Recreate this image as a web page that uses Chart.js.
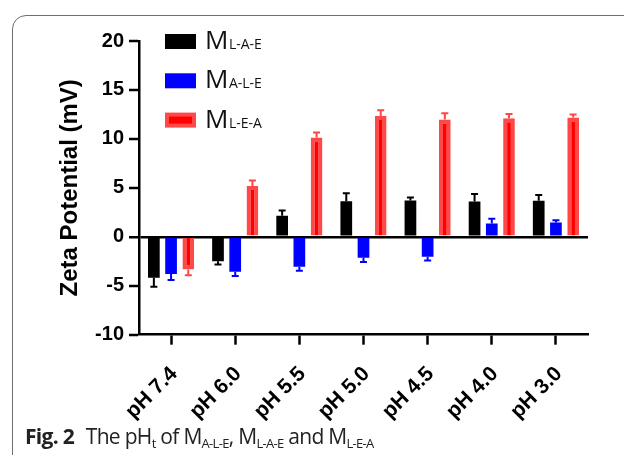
<!DOCTYPE html>
<html>
<head>
<meta charset="utf-8">
<script src="https://cdn.jsdelivr.net/npm/chart.js@4.4.1/dist/chart.umd.min.js"></script>
<style>
  html, body { margin: 0; padding: 0; background: #fff; }
  #wrap { position: relative; width: 624px; height: 455px; overflow: hidden; }
  #frame { position: absolute; left: 12px; top: 15px; width: 700px; height: 600px;
           border: 1.5px solid #6f6f6f; border-radius: 14px; box-sizing: border-box; }
  #c { position: absolute; left: 0; top: 0; }
  #caption { position: absolute; left: 25px; top: 422px; font-family: "Open Sans", sans-serif;
             font-size: 21px; color: #222; white-space: nowrap; letter-spacing: -0.7px; }
  #caption b { font-weight: 700; margin-right: 7px; }
  #caption sub { font-size: 13px; vertical-align: -4px; line-height: 0; }
</style>
</head>
<body>
<div id="wrap">
  <div id="frame"></div>
  <canvas id="c" width="624" height="455"></canvas>
  <div id="caption"><b>Fig. 2</b> The pH<sub>t</sub> of M<sub>A-L-E</sub>, M<sub>L-A-E</sub> and M<sub>L-E-A</sub></div>
</div>
<script>
// pH conditions along the x axis
const categories = ['pH 7.4', 'pH 6.0', 'pH 5.5', 'pH 5.0', 'pH 4.5', 'pH 4.0', 'pH 3.0'];

// Zeta potential (mV), mean values
const mLAE = [-4.18, -2.51, 2.14, 3.64, 3.71, 3.61, 3.67];
const mALE = [-3.81, -3.57, -3.06, -2.14, -2.04, 1.37, 1.47];
const mLEA = [-3.33, 5.20, 10.14, 12.35, 11.98, 12.11, 12.18];

// Standard deviations (drawn away from zero)
const errLAE = [0.92, 0.31, 0.55, 0.82, 0.31, 0.75, 0.60];
const errALE = [0.61, 0.44, 0.41, 0.44, 0.37, 0.47, 0.23];
const errLEA = [0.61, 0.55, 0.51, 0.58, 0.64, 0.44, 0.31];

// Series subscripts (prefixed by "M")
const seriesSubs = ['L-A-E', 'A-L-E', 'L-E-A'];

// Y axis tick values
const yTicks = [-10, -5, 0, 5, 10, 15, 20];

const AXIS_FONT = '"Liberation Sans", Arial, sans-serif';

const errorBars = {
  id: 'errorBars',
  afterDatasetsDraw(chart) {
    const ctx = chart.ctx;
    const y = chart.scales.y;
    chart.data.datasets.forEach((ds, di) => {
      const meta = chart.getDatasetMeta(di);
      ctx.save();
      ctx.strokeStyle = ds.errColor;
      ctx.lineWidth = 2;
      meta.data.forEach((bar, i) => {
        const v = ds.data[i];
        const e = ds.errors[i];
        const end = v >= 0 ? v + e : v - e;
        const y0 = y.getPixelForValue(v);
        const y1 = y.getPixelForValue(end);
        ctx.beginPath();
        ctx.moveTo(bar.x, y0);
        ctx.lineTo(bar.x, y1);
        ctx.moveTo(bar.x - 3.5, y1);
        ctx.lineTo(bar.x + 3.5, y1);
        ctx.stroke();
      });
      ctx.restore();
    });
  }
};

const subLegend = {
  id: 'subLegend',
  afterDraw(chart) {
    const ctx = chart.ctx;
    ctx.save();
    chart.data.datasets.forEach((ds, i) => {
      const top = 34 + i * 39.3;
      const x = 165, w = 31, h = 15;
      if (ds.legendInner) {
        ctx.fillStyle = ds.borderColor;
        ctx.fillRect(x, top, w, h);
        ctx.fillStyle = ds.legendInner;
        ctx.fillRect(x + 4, top + 4, w - 8, h - 8);
      } else {
        ctx.fillStyle = ds.backgroundColor;
        ctx.fillRect(x, top, w, h);
      }
      const base = top + 15;
      ctx.fillStyle = '#111';
      ctx.textBaseline = 'alphabetic';
      ctx.font = '26px "Open Sans", sans-serif';
      ctx.fillText('M', 205, base);
      const mw = ctx.measureText('M').width;
      ctx.font = '14px "Open Sans", sans-serif';
      ctx.fillText(seriesSubs[i], 205 + mw + 0.5, base);
    });
    ctx.restore();
  }
};

new Chart(document.getElementById('c'), {
  type: 'bar',
  data: {
    labels: categories,
    datasets: [
      { label: 'M' + seriesSubs[0], data: mLAE, errors: errLAE, errColor: '#000',
        backgroundColor: '#000000', borderWidth: 0 },
      { label: 'M' + seriesSubs[1], data: mALE, errors: errALE, errColor: '#0000ff',
        backgroundColor: '#0000ff', borderWidth: 0 },
      { label: 'M' + seriesSubs[2], data: mLEA, errors: errLEA, errColor: '#ff4545',
        backgroundColor: '#ff0000', borderColor: '#ff4848', borderWidth: 4,
        borderSkipped: 'start', legendInner: '#ff0000' }
    ]
  },
  options: {
    responsive: false,
    devicePixelRatio: 1,
    animation: false,
    categoryPercentage: 0.805,
    barPercentage: 0.68,
    layout: { padding: { left: 0, right: 36, top: 41, bottom: 0 } },
    plugins: { legend: { display: false }, tooltip: { enabled: false } },
    scales: {
      x: {
        afterFit(s) { s.height = 120.3; },
        grid: { offset: false, drawOnChartArea: false, drawTicks: true, tickLength: 10,
                tickColor: '#000', tickWidth: 2.5 },
        border: { color: '#000', width: 2.5 },
        ticks: { minRotation: 45, maxRotation: 45, padding: 17, labelOffset: 3, color: '#000',
                 font: { family: AXIS_FONT, size: 21, weight: 'bold' } }
      },
      y: {
        min: -10, max: 20,
        afterFit(s) { s.width = 139; },
        afterBuildTicks(s) { s.ticks = yTicks.map(v => ({ value: v })); },
        title: { display: true, text: 'Zeta Potential (mV)', color: '#000', padding: { top: 56, bottom: 0 },
                 font: { family: AXIS_FONT, size: 24, weight: 'bold' } },
        grid: {
          drawOnChartArea: true, drawTicks: true, tickLength: 10,
          tickColor: '#000', tickWidth: 2.5,
          color: c => (c.tick && c.tick.value === 0) ? '#000' : 'rgba(0,0,0,0)',
          lineWidth: c => (c.tick && c.tick.value === 0) ? 2.5 : 0
        },
        border: { color: '#000', width: 2.5 },
        ticks: { padding: 5, color: '#000', font: { family: AXIS_FONT, size: 20, weight: 'bold' } }
      }
    }
  },
  plugins: [errorBars, subLegend]
});
</script>
</body>
</html>
